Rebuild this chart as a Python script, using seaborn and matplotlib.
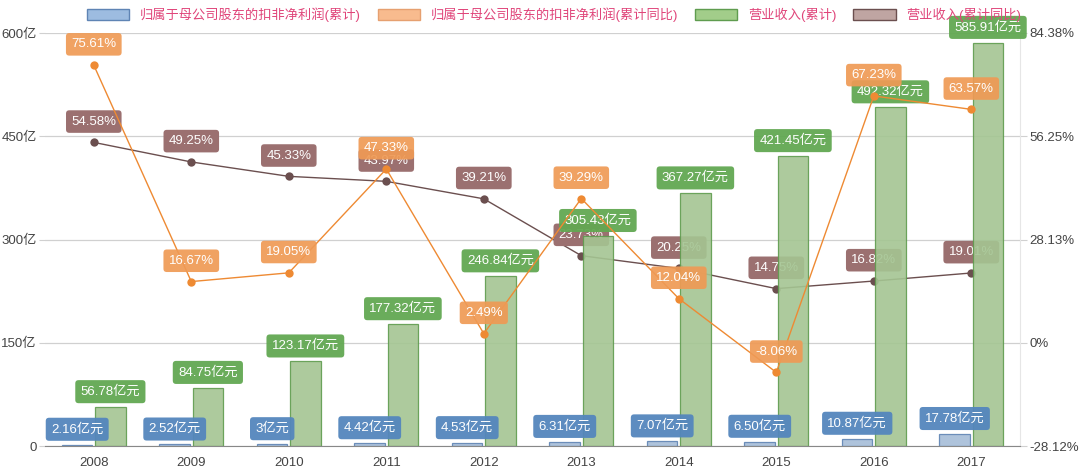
import numpy as np
import pandas as pd
import matplotlib
matplotlib.use("Agg")
import matplotlib.pyplot as plt
import matplotlib.patches as mpatches
import seaborn as sns

# ----------------------------------------------------------
# data
# ----------------------------------------------------------
years = ["2008", "2009", "2010", "2011", "2012", "2013", "2014", "2015", "2016", "2017"]
net_profit = [2.16, 2.52, 3, 4.42, 4.53, 6.31, 7.07, 6.50, 10.87, 17.78]
net_profit_labels = ["2.16", "2.52", "3", "4.42", "4.53", "6.31", "7.07", "6.50", "10.87", "17.78"]
revenue = [56.78, 84.75, 123.17, 177.32, 246.84, 305.43, 367.27, 421.45, 492.32, 585.91]
profit_yoy = [75.61, 16.67, 19.05, 47.33, 2.49, 39.29, 12.04, -8.06, 67.23, 63.57]
revenue_yoy = [54.58, 49.25, 45.33, 43.97, 39.21, 23.73, 20.25, 14.75, 16.82, 19.01]

left_ticks = [0, 150, 300, 450, 600]
right_ticks = [-28.12, 0, 28.13, 56.25, 84.38]
right_labels = ["-28.12%", "0%", "28.13%", "56.25%", "84.38%"]

names = ["归属于母公司股东的扣非净利润(累计)", "归属于母公司股东的扣非净利润(累计同比)",
         "营业收入(累计)", "营业收入(累计同比)"]

# ----------------------------------------------------------
# style
# ----------------------------------------------------------
sns.set_style("white")
plt.rcParams["font.family"] = ["Liberation Sans", "Noto Sans CJK SC", "DejaVu Sans"]

BLUE_FILL, BLUE_EDGE, BLUE_BOX = "#9dbce0", "#5f84b4", "#5486bd"
GREEN_FILL, GREEN_EDGE, GREEN_BOX = "#a2cd8a", "#5f9c4f", "#62a852"
ORANGE_LINE, ORANGE_BOX, ORANGE_FILL = "#ee8a33", "#ef9a55", "#f8bb8e"
BROWN_LINE, BROWN_BOX, BROWN_FILL = "#6b4f4f", "#9b7070", "#bfa5a2"
GRID = "#d0d0d0"
TXT = "#444444"
FS = 9.5

fig = plt.figure(figsize=(10.8, 4.71), dpi=100)
ax = fig.add_axes([0.0417, 0.053, 0.9028, 0.877])   # bars (left scale)
axb = ax.twinx()                                    # revenue yoy, under the bars
axo = ax.twinx()                                    # profit yoy, above the bars
axb.set_zorder(1)
ax.set_zorder(2)
axo.set_zorder(3)
ax.patch.set_visible(False)
axo.patch.set_visible(False)

# ----------------------------------------------------------
# revenue yoy line (drawn behind bars, like the original)
# ----------------------------------------------------------
pos = np.arange(len(years))
sns.lineplot(x=pos, y=revenue_yoy, color=BROWN_LINE, marker="o", markersize=6,
             markeredgewidth=0, linewidth=1, ax=axb, zorder=3)
for x, v in zip(pos, revenue_yoy):
    axb.annotate(f"{v:.2f}%", (x, v), xytext=(0, 15), textcoords="offset points",
                 ha="center", va="center", color="white", fontsize=FS, zorder=6,
                 bbox=dict(boxstyle="round,pad=0.4,rounding_size=0.25", fc=BROWN_BOX, ec="none"))

axb.set_ylim(-28.12, 84.38)
axb.set_yticks(right_ticks)
axb.set_yticklabels(right_labels)
axb.tick_params(axis="y", length=5, color=GRID, labelsize=FS, labelcolor=TXT, pad=2)
axb.grid(axis="y", color=GRID, linewidth=0.9, zorder=0)
axb.grid(axis="x", which="minor", color=GRID, linewidth=0.9, zorder=0)
axb.set_axisbelow(True)
for s in ["top", "left", "bottom"]:
    axb.spines[s].set_visible(False)
axb.spines["right"].set_color("#e6e6e6")
axb.set_ylabel("")

# ----------------------------------------------------------
# bars
# ----------------------------------------------------------
df = pd.DataFrame({
    "year": years * 2,
    "value": net_profit + revenue,
    "series": [names[0]] * len(years) + [names[2]] * len(years),
})
sns.barplot(data=df, x="year", y="value", hue="series", hue_order=[names[0], names[2]],
            palette=[BLUE_FILL, GREEN_FILL], width=0.68, gap=0.08, legend=False,
            ax=ax, zorder=2)

for container, edge, box, vals, labs in [
    (ax.containers[0], BLUE_EDGE, BLUE_BOX, net_profit, net_profit_labels),
    (ax.containers[1], GREEN_EDGE, GREEN_BOX, revenue, [f"{v:.2f}" for v in revenue]),
]:
    for bar, v, lab in zip(container, vals, labs):
        bar.set_edgecolor(edge)
        bar.set_linewidth(0.9)
        bar.set_alpha(0.9)
        cx = bar.get_x() + bar.get_width() / 2
        ax.annotate(lab + "亿元", (cx, v), xytext=(0, 11), textcoords="offset points",
                    ha="center", va="center", color="white", fontsize=FS, zorder=5,
                    bbox=dict(boxstyle="round,pad=0.4,rounding_size=0.25", fc=box, ec="none", alpha=0.95))

ax.set_ylim(0, 600)
ax.set_xlim(-0.5, len(years) - 0.5)
ax.set_yticks(left_ticks)
ax.set_yticklabels([f"{t}亿" if t else "0" for t in left_ticks])
ax.set_xticks(np.arange(-0.5, len(years), 1.0), minor=True)
ax.tick_params(axis="x", which="major", length=0, pad=8, labelsize=FS, labelcolor=TXT)
ax.tick_params(axis="x", which="minor", length=8, color=GRID)
ax.tick_params(axis="y", length=4, color=GRID, labelsize=FS, labelcolor=TXT, pad=2)
ax.set_xlabel("")
ax.set_ylabel("")
for s in ["top", "left", "right"]:
    ax.spines[s].set_visible(False)
ax.spines["bottom"].set_color("#888888")

# ----------------------------------------------------------
# profit yoy line (on top)
# ----------------------------------------------------------
sns.lineplot(x=pos, y=profit_yoy, color=ORANGE_LINE, marker="o", markersize=6,
             markeredgewidth=0, linewidth=1, ax=axo, zorder=3)
for x, v in zip(pos, profit_yoy):
    axo.annotate(f"{v:.2f}%", (x, v), xytext=(0, 15), textcoords="offset points",
                 ha="center", va="center", color="white", fontsize=FS, zorder=6,
                 bbox=dict(boxstyle="round,pad=0.4,rounding_size=0.25", fc=ORANGE_BOX, ec="none", alpha=0.92))
axo.set_ylim(-28.12, 84.38)
axo.set_xlim(-0.5, len(years) - 0.5)
axo.set_yticks([])
axo.set_ylabel("")
for s in axo.spines.values():
    s.set_visible(False)

# ----------------------------------------------------------
# legend
# ----------------------------------------------------------
handles = [
    mpatches.Patch(facecolor=BLUE_FILL, edgecolor=BLUE_EDGE, label=names[0]),
    mpatches.Patch(facecolor=ORANGE_FILL, edgecolor="#e6a070", label=names[1]),
    mpatches.Patch(facecolor=GREEN_FILL, edgecolor=GREEN_EDGE, label=names[2]),
    mpatches.Patch(facecolor=BROWN_FILL, edgecolor=BROWN_LINE, label=names[3]),
]
leg = fig.legend(handles=handles, loc="center", bbox_to_anchor=(0.513, 0.968), ncol=4,
                 frameon=False, fontsize=FS, handlelength=3.2, handleheight=0.9,
                 columnspacing=1.3, handletextpad=0.8)
for t in leg.get_texts():
    t.set_color("#e0457a")

fig.savefig("out.png", dpi=100)
